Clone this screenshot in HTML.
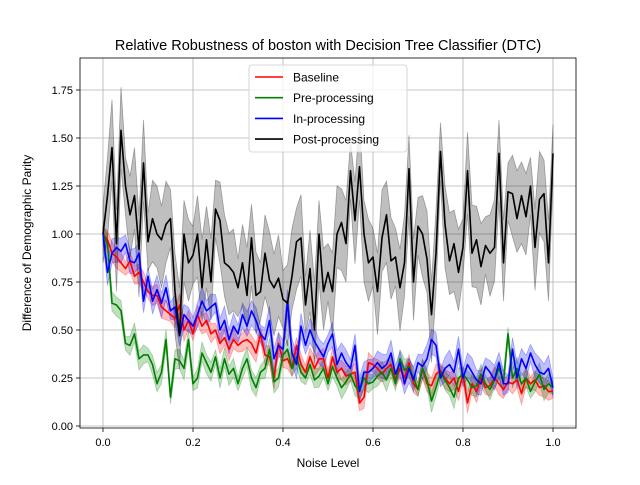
<!DOCTYPE html>
<html><head><meta charset="utf-8"><style>
body{margin:0;background:#fff}
svg{font-family:"Liberation Sans","DejaVu Sans",sans-serif}
</style></head><body>
<svg id="c" width="640" height="480" viewBox="0 0 640 480">
<rect width="640" height="480" fill="#fff"/>
<g id="grid"></g><g id="bands"></g><g id="lines"></g><g id="axes"></g>
<text x="328" y="50" text-anchor="middle" font-size="14.5">Relative Robustness of boston with Decision Tree Classifier (DTC)</text>
<text x="328" y="467" text-anchor="middle" font-size="12">Noise Level</text>
<text transform="translate(31,243) rotate(-90)" text-anchor="middle" font-size="12">Difference of Demographic Parity</text>
<g id="legend"></g>
</svg>
<script>
const xTicks=[0,0.2,0.4,0.6,0.8,1.0];
const yTicks=[0,0.25,0.5,0.75,1.0,1.25,1.5,1.75];
const seriesNames=["Baseline","Pre-processing","In-processing","Post-processing"];
const seriesColors=["red","green","blue","black"];
const baseline=[1.0,.97,.90,.88,.85,.82,.86,.78,.80,.75,.70,.68,.68,.62,.60,.58,.56,.63,.50,.55,.48,.58,.52,.55,.48,.50,.43,.46,.40,.45,.42,.44,.45,.43,.38,.48,.37,.36,.25,.43,.34,.35,.30,.42,.32,.28,.36,.30,.35,.35,.25,.36,.28,.30,.26,.27,.28,.12,.15,.33,.32,.30,.27,.30,.32,.24,.30,.25,.33,.22,.19,.30,.22,.21,.27,.29,.25,.22,.25,.18,.27,.12,.22,.18,.25,.20,.21,.25,.22,.19,.23,.22,.24,.17,.25,.22,.24,.20,.21,.18,.18];
const preproc=[1.0,.95,.64,.63,.60,.43,.42,.48,.35,.37,.37,.32,.22,.28,.45,.15,.35,.34,.30,.45,.22,.25,.38,.33,.28,.36,.25,.35,.27,.30,.22,.30,.35,.25,.20,.28,.30,.40,.23,.25,.37,.40,.30,.36,.28,.25,.32,.24,.26,.30,.22,.31,.25,.20,.23,.27,.21,.18,.25,.22,.23,.26,.28,.24,.30,.22,.35,.29,.31,.25,.19,.30,.24,.13,.20,.28,.24,.20,.15,.25,.27,.24,.20,.21,.27,.22,.19,.24,.30,.23,.48,.25,.30,.22,.25,.18,.23,.27,.19,.22,.20];
const inproc=[1.0,.8,.9,.93,.91,.95,.86,.85,.9,.65,.78,.65,.71,.64,.72,.60,.62,.47,.58,.55,.52,.58,.65,.60,.62,.64,.50,.55,.45,.52,.48,.58,.52,.60,.55,.48,.45,.55,.35,.42,.40,.65,.38,.32,.52,.42,.50,.44,.40,.36,.43,.48,.32,.38,.33,.30,.42,.18,.28,.28,.30,.33,.30,.32,.38,.27,.33,.22,.30,.24,.33,.31,.35,.45,.42,.25,.30,.32,.28,.40,.25,.32,.28,.24,.22,.31,.28,.24,.33,.22,.22,.40,.25,.35,.30,.38,.32,.28,.27,.30,.20];
const postproc=[1.0,1.2,1.45,.95,1.54,1.25,1.1,1.2,.92,1.37,.96,1.08,1.0,.97,1.05,1.08,.7,.47,1.0,.85,.89,1.0,.72,.97,.75,1.13,1.07,.85,.83,.8,.72,.85,.68,.98,.68,.7,.9,.76,.72,.77,.66,.64,.78,.96,.98,.63,.82,.5,1.0,.7,.8,.7,1.0,1.06,.95,1.33,1.07,1.35,1.0,.85,.88,.7,.98,1.1,.86,.88,.72,.85,1.34,.75,1.04,1.0,.87,.58,.9,1.43,1.05,.86,.95,.8,.93,1.33,.9,.97,.83,.94,.9,.93,1.42,.85,1.22,1.21,1.08,1.2,1.09,1.25,.93,1.18,1.21,.85,1.42];
const spreads=[0.035,0.035,0.045,0.15];
const allSeries=[baseline,preproc,inproc,postproc];
const X0=80,X1=576,Y0=58,Y1=428;
const sx=v=>103+v*450, sy=v=>426-v*192;
const NS="http://www.w3.org/2000/svg";
function mk(t,a,p){const e=document.createElementNS(NS,t);for(const k in a)e.setAttribute(k,a[k]);p.appendChild(e);return e;}
const grid=document.getElementById('grid'),axes=document.getElementById('axes');
xTicks.forEach(v=>{
 const g=mk('line',{x1:sx(v),x2:sx(v),y1:Y0,y2:Y1,stroke:'#b0b0b0','stroke-width':0.8},grid);
 
 
 mk('line',{x1:sx(v),x2:sx(v),y1:Y1,y2:Y1+4,stroke:'#000','stroke-width':0.8},axes);
 const t=mk('text',{x:sx(v),y:Y1+18,'text-anchor':'middle','font-size':11},axes);t.textContent=v.toFixed(1);
 
 
});
yTicks.forEach(v=>{
 const g=mk('line',{x1:X0,x2:X1,y1:sy(v),y2:sy(v),stroke:'#b0b0b0','stroke-width':0.8},grid);
 
 
 mk('line',{x1:X0-4,x2:X0,y1:sy(v),y2:sy(v),stroke:'#000','stroke-width':0.8},axes);
 const t=mk('text',{x:X0-7,y:sy(v)+4,'text-anchor':'end','font-size':11},axes);t.textContent=v.toFixed(2);
 
 
});
const fr=mk('rect',{x:X0,y:Y0,width:X1-X0,height:Y1-Y0,fill:'none',stroke:'#000','stroke-width':0.8},axes);


const bands=document.getElementById('bands'),lines=document.getElementById('lines');
allSeries.forEach((d,s)=>{
 const n=d.length,xs=i=>sx(i/(n-1));
 const up=d.map((v,i)=>xs(i)+','+sy(v+spreads[s]*(1+((i*7)%5)/6)));
 const lo=d.map((v,i)=>xs(i)+','+sy(Math.max(0.02,v-spreads[s]*(1+((i*3)%5)/6)))).reverse();
 const b=mk('polygon',{points:up.concat(lo).join(' '),fill:seriesColors[s],'fill-opacity':0.25,stroke:seriesColors[s],'stroke-opacity':0.3,'stroke-width':0.8},bands);
 
 
 const l=mk('polyline',{points:d.map((v,i)=>xs(i)+','+sy(v)).join(' '),fill:'none',stroke:seriesColors[s],'stroke-width':1.6,'stroke-linejoin':'round'},lines);
 
 
});
const lg=document.getElementById('legend');
mk('rect',{x:249,y:65,width:158,height:87,rx:3,fill:'#fff','fill-opacity':0.8,stroke:'#ccc','stroke-width':0.8},lg);
seriesNames.forEach((nm,i)=>{
 const y=77+i*20.7;
 const l=mk('line',{x1:255,x2:283,y1:y,y2:y,stroke:seriesColors[i],'stroke-width':1.6},lg);
 
 
 const t=mk('text',{x:293,y:y+4.5,'font-size':12},lg);t.textContent=nm;
 
 
});
</script>
</body></html>
